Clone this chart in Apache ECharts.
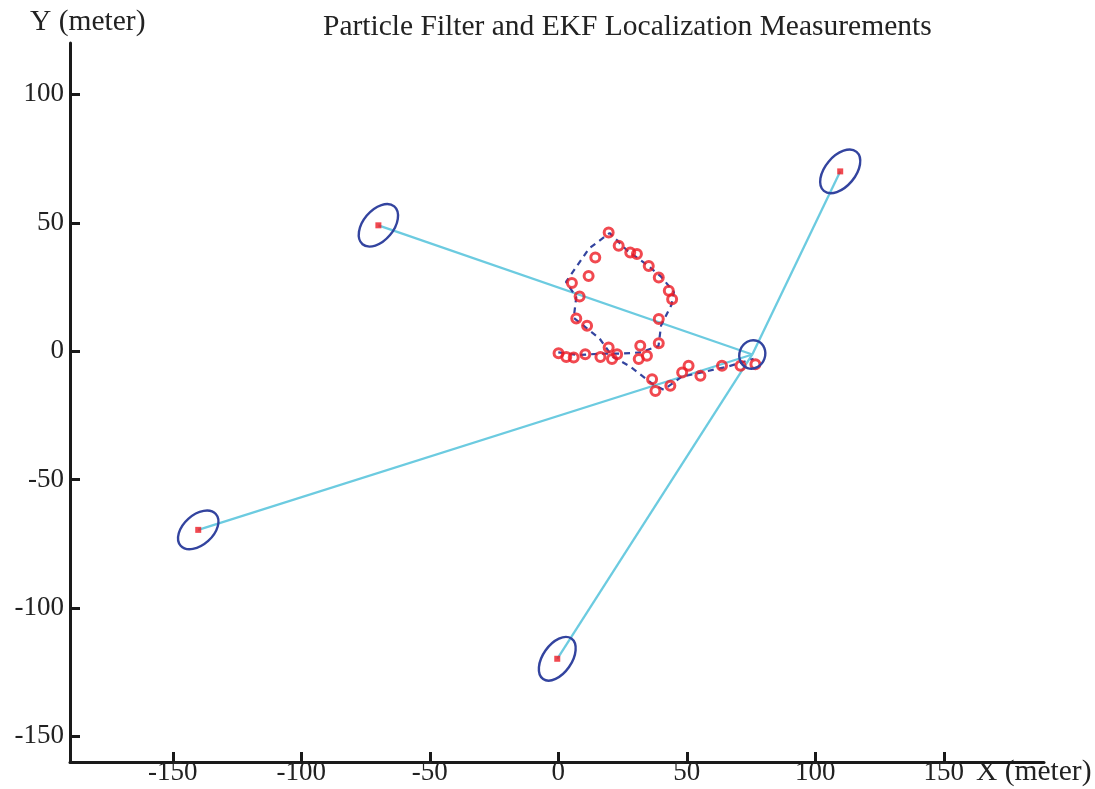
<!DOCTYPE html>
<html><head><meta charset="utf-8">
<script src="https://cdn.jsdelivr.net/npm/echarts@6/dist/echarts.min.js"></script>
<style>html,body{margin:0;padding:0;background:#fff}#c{width:1095px;height:789px}</style>
</head><body><div id="c"></div>
<script>
const titleText = 'Particle Filter and EKF Localization Measurements';
const xName = 'X (meter)';
const yName = 'Y (meter)';
const xTicks = [-150, -100, -50, 0, 50, 100, 150];
const yTicks = [-150, -100, -50, 0, 50, 100];

// beacons (landmarks) and their uncertainty ellipses
const beaconX = [-70.0, 109.7, -140.1, -0.4];
const beaconY = [49.0, 70.0, -69.6, -119.8];
const beaconEllA = [9.6, 9.9, 9.2, 9.6];
const beaconEllB = [5.9, 5.9, 5.8, 5.6];
const beaconEllAngle = [50, 50, 42, 55];

// current robot position estimate and its ellipse
const robotPos = [75.5, -1.3];
const robotEll = [5.6, 5.0, 70];

// particle filter estimates (red circles)
const pfX = [0.1, 3.1, 6.0, 10.5, 16.4, 19.6, 20.9, 22.9, 31.9, 31.3, 34.5, 39.1,
  39.1, 44.3, 43.0, 39.1, 35.2, 30.6, 28.0, 23.5, 19.6, 14.4, 11.8, 5.3, 8.3, 7.0, 11.2,
  36.5, 37.8, 43.6, 48.2, 50.7, 55.3, 63.7, 70.9, 76.7];
const pfY = [-0.8, -2.3, -2.5, -1.2, -2.3, 1.4, -3.1, -1.2, 2.1, -3.1, -1.8, 3.1,
  12.5, 20.2, 23.5, 28.7, 33.2, 37.8, 38.4, 41.0, 46.2, 36.5, 29.3, 26.5, 21.3, 12.7, 9.9,
  -10.9, -15.5, -13.5, -8.3, -5.7, -9.6, -5.7, -5.7, -5.1];

// EKF estimated path (blue dashed)
const ekfX = [0, 8, 16, 24, 32, 39, 40, 44, 45, 40, 34, 27, 20, 12, 3, 7, 6, 11, 16, 21, 28, 37, 41, 48, 57, 66, 76];
const ekfY = [-0.5, -1.5, -1, -1, -0.5, 2, 10, 18, 23, 29, 34, 39, 46, 40, 27, 21, 13, 9, 5, -2, -6, -13, -15, -10, -8, -6, -3];

const serif = '"Liberation Serif", "Times New Roman", serif';
const txt = '#222';
const blue = '#33449f';
const red = '#ee1c24';
const cyan = '#6ccbe0';

const ellData = beaconX.map((x, i) => [x, beaconY[i], beaconEllA[i], beaconEllB[i], beaconEllAngle[i]]);
ellData.push([robotPos[0], robotPos[1], robotEll[0], robotEll[1], robotEll[2]]);

const series = [];
beaconX.forEach((x, i) => {
  series.push({
    type: 'line', data: [[robotPos[0], robotPos[1]], [x, beaconY[i]]],
    symbol: 'none', lineStyle: { color: cyan, width: 2.3 }, z: 1
  });
});
series.push({
  type: 'line', data: ekfX.map((x, i) => [x, ekfY[i]]), symbol: 'none',
  lineStyle: { color: blue, width: 2.2, type: [6, 5] }, z: 2
});
series.push({
  type: 'scatter', data: pfX.map((x, i) => [x, pfY[i]]), symbol: 'circle', symbolSize: 9,
  itemStyle: { color: 'rgba(255,255,255,0)', borderColor: red, borderWidth: 3 }, z: 3
});
series.push({
  type: 'custom', data: ellData, z: 4,
  renderItem: (params, api) => {
    const c = api.coord([api.value(0), api.value(1)]);
    const s = api.size([api.value(2), api.value(3)]);
    return {
      type: 'ellipse', x: c[0], y: c[1], rotation: api.value(4) * Math.PI / 180,
      shape: { cx: 0, cy: 0, rx: s[0], ry: s[1] },
      style: { fill: 'none', stroke: blue, lineWidth: 2.4 }
    };
  }
});
series.push({
  type: 'scatter', data: beaconX.map((x, i) => [x, beaconY[i]]), symbol: 'rect', symbolSize: 6,
  itemStyle: { color: red }, z: 5
});

const axisCommon = {
  type: 'value',
  axisLine: { onZero: false, lineStyle: { color: '#1a1a1a', width: 3 } },
  axisTick: { inside: true, length: 10, lineStyle: { color: '#1a1a1a', width: 3 } },
  splitLine: { show: false },
};

const chart = echarts.init(document.getElementById('c'), null, { renderer: 'canvas' });
chart.setOption({
  animation: false,
  backgroundColor: '#fff',
  title: {
    text: titleText, left: 318, top: 7,
    textStyle: { fontFamily: serif, fontSize: 29.5, fontWeight: 'normal', color: txt, lineHeight: 30 }
  },
  grid: { left: 70, right: 51, top: 43, bottom: 27, containLabel: false },
  xAxis: Object.assign({}, axisCommon, {
    min: -190, max: 189,
    axisTick: Object.assign({}, axisCommon.axisTick, { customValues: xTicks }),
    axisLabel: { customValues: xTicks, margin: 1, fontFamily: serif, fontSize: 27, color: txt, lineHeight: 20 }
  }),
  yAxis: Object.assign({}, axisCommon, {
    min: -160, max: 120,
    axisTick: Object.assign({}, axisCommon.axisTick, { customValues: yTicks }),
    axisLabel: { customValues: yTicks, margin: 6, fontFamily: serif, fontSize: 27, color: txt }
  }),
  graphic: [
    { type: 'text', left: 30, top: 7, style: { text: yName, font: '29.5px ' + serif, fill: txt } },
    { type: 'text', left: 976, top: 757, style: { text: xName, font: '29.5px ' + serif, fill: txt } }
  ],
  series: series
});
</script>
</body></html>
